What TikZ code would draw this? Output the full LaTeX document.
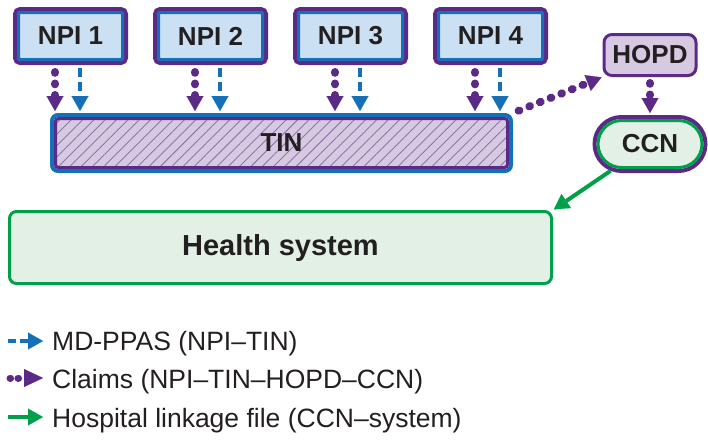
\documentclass[tikz,border=0pt]{standalone}
\usepackage{fontspec}
\setmainfont{Liberation Sans}
\usetikzlibrary{arrows.meta,patterns.meta,shapes.misc,calc}
\definecolor{cpur}{HTML}{5B2A86}
\definecolor{cblue}{HTML}{1570BA}
\definecolor{cgreen}{HTML}{00A04A}
\definecolor{lblue}{HTML}{CCE0F4}
\definecolor{lpur}{HTML}{D8C9E3}
\definecolor{lgreen}{HTML}{E2F0E5}
\definecolor{hatch}{HTML}{8F76AA}
\definecolor{ctext}{HTML}{231F20}
\begin{document}
\begin{tikzpicture}[x=1pt,y=-1pt,
  every node/.style={text=ctext},
  lab/.style={font=\fontsize{26}{30}\selectfont\bfseries},
  npibox/.style={lab, draw=cpur, line width=4pt, fill=lblue, rounded corners=5pt,
    minimum width=111pt, minimum height=54pt, inner sep=0pt},
  npiinner/.style={draw=cblue, line width=3pt, rounded corners=2pt,
    minimum width=104pt, minimum height=47pt, inner sep=0pt},
  tinbox/.style={lab, preaction={fill=lpur},
    pattern={Lines[angle=45,distance=8pt,line width=0.9pt]}, pattern color=hatch,
    draw=cblue, line width=4pt, rounded corners=6pt,
    minimum width=459pt, minimum height=56pt, inner sep=0pt},
  tininner/.style={draw=cpur, line width=3pt, rounded corners=3pt,
    minimum width=452pt, minimum height=49pt, inner sep=0pt},
  hopdbox/.style={lab, draw=cpur, line width=3pt, fill=lpur, rounded corners=8pt,
    minimum width=92pt, minimum height=41pt, inner sep=0pt},
  ccnbox/.style={lab, rounded rectangle, draw=cpur, line width=4pt, fill=lgreen,
    minimum width=111pt, minimum height=54pt, inner sep=0pt},
  ccninner/.style={rounded rectangle, draw=cgreen, line width=3pt,
    minimum width=104pt, minimum height=47pt, inner sep=0pt},
  healthbox/.style={draw=cgreen, line width=3pt, fill=lgreen, rounded corners=7pt,
    minimum width=542pt, minimum height=72pt, inner sep=0pt,
    font=\fontsize{29}{34}\selectfont\bfseries},
  claimline/.style={cpur, line width=8pt, line cap=round, dash pattern=on 0.8pt off 10.7pt,
    -{Triangle[width=17pt,length=15pt,line width=0.1pt]}},
  mdline/.style={cblue, line width=4pt, dash pattern=on 9pt off 5pt,
    -{Triangle[width=17pt,length=15pt,line width=0.1pt]}},
  linkline/.style={cgreen, line width=4pt,
    -{Triangle[width=17pt,length=15pt,line width=0.1pt]}},
  legtext/.style={anchor=base west, inner sep=0pt, font=\fontsize{26.5}{30}\selectfont}
]
\useasboundingbox (0,0) rectangle (708,440);

% NPI boxes
\foreach \k in {1,...,4}{
  \node[npibox] (n\k) at ({70.5+140*(\k-1)},36) {NPI \k};
  \node[npiinner] at (n\k.center) {};
}
% TIN
\node[tinbox] (tin) at (281.5,143) {TIN};
\node[tininner] at (tin.center) {};
% HOPD, CCN
\node[hopdbox] (hopd) at (650,55) {HOPD};
\node[ccnbox] (ccn) at (650,144) {CCN};
\node[ccninner] at (ccn.center) {};
% Health system
\node[healthbox] (hs) at (280.5,247.5) {Health system};

% NPI -> TIN
\foreach \k in {1,...,4}{
  \path ($(n\k.south west)+(42,0)$) coordinate (pc\k)
        ($(n\k.south west)+(67,0)$) coordinate (bc\k);
  \draw[claimline, shorten <=7pt, shorten >=2pt] (pc\k) -- (pc\k |- tin.north);
  \draw[mdline, shorten <=3pt, shorten >=2pt] (bc\k) -- (bc\k |- tin.north);
}
% TIN -> HOPD -> CCN -> system
\draw[claimline, shorten <=6pt, shorten >=1pt] (tin.north east) -- (hopd.south west);
\draw[claimline, shorten <=6pt, shorten >=2pt] (hopd.south) -- (ccn.north);
\draw[linkline, shorten >=1pt] (ccn) -- (hs.north east);

% Legend
\node[legtext] (lg1) at (52,350) {MD-PPAS (NPI–TIN)};
\node[legtext] (lg2) at (52,388) {Claims (NPI–TIN–HOPD–CCN)};
\node[legtext] (lg3) at (52,427) {Hospital linkage file (CCN–system)};
\coordinate (a1) at (8,341);  \coordinate (b1) at (43,341);
\coordinate (a2) at (10,378); \coordinate (b2) at (43,378);
\coordinate (a3) at (8,417);  \coordinate (b3) at (43,417);
\draw[mdline, dash pattern=on 8pt off 4pt] (a1) -- (b1);
\draw[cpur, line width=7pt, line cap=round, dash pattern=on 0.6pt off 7.4pt,
  -{Triangle[width=18pt,length=19pt,line width=0.1pt]}] (a2) -- (b2);
\draw[linkline] (a3) -- (b3);
\end{tikzpicture}
\end{document}
